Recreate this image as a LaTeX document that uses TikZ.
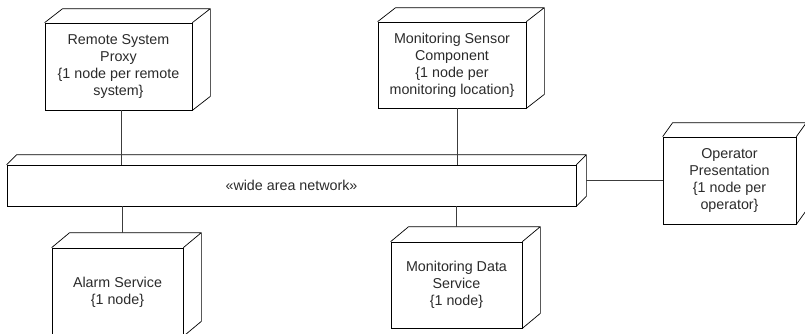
\documentclass[tikz,border=0pt]{standalone}
\usepackage{fontspec}
\setmainfont{Liberation Sans}
\usetikzlibrary{calc}
\definecolor{ink}{HTML}{2B2B2B}
\definecolor{wire}{HTML}{3C3C3C}
\newcommand{\pxu}{0.03cm}

\begin{document}
\begin{tikzpicture}[
    x=0.03cm, y=-0.03cm,
    font=\fontsize{12.2}{14.5}\selectfont,
    devbox/.style={draw=black, fill=white, line width=0.6pt,
                   text=ink, align=center, inner sep=2pt},
    wire/.style={draw=wire, line width=0.6pt},
  ]
\useasboundingbox (0,0) rectangle (805,333);

% deployment nodes (front faces)
\node[devbox, minimum width=147*\pxu, minimum height=87*\pxu] (rsp) at (118.5,66.5)
  {Remote System\\Proxy\\\{1 node per remote\\system\}};
\node[devbox, minimum width=148*\pxu, minimum height=86*\pxu] (msc) at (452,65)
  {Monitoring Sensor\\Component\\\{1 node per\\monitoring location\}};
\node[devbox, minimum width=569*\pxu, minimum height=41*\pxu] (wan) at (291.5,185.5)
  {\guillemotleft wide area network\guillemotright};
\node[devbox, minimum width=133*\pxu, minimum height=87*\pxu] (opr) at (729.5,180.5)
  {Operator\\Presentation\\\{1 node per\\operator\}};
\node[devbox, minimum width=131*\pxu, minimum height=88*\pxu] (alm) at (117.5,292)
  {Alarm Service\\\{1 node\}};
\node[devbox, minimum width=131*\pxu, minimum height=86*\pxu] (mds) at (456.5,285)
  {Monitoring Data\\Service\\\{1 node\}};

% depth of each node box
\foreach \n/\dx/\dy in {rsp/18/14, msc/18/14, wan/10/10, opr/10/14, alm/18/15, mds/18/15}
  \draw[line width=0.6pt] (\n.north west) -- ++(\dx,-\dy)
    -- ($(\n.north east)+(\dx,-\dy)$) -- ($(\n.south east)+(\dx,-\dy)$) -- (\n.south east)
    (\n.north east) -- ++(\dx,-\dy);

% links to the network
\draw[wire] ([xshift=3*\pxu]rsp.south) -- ([xshift=3*\pxu]rsp.south |- wan.north);
\draw[wire] ([xshift=5*\pxu]msc.south) -- ([xshift=5*\pxu]msc.south |- wan.north);
\draw[wire] ([xshift=5*\pxu]alm.north |- wan.south) -- ([xshift=5*\pxu,yshift=15*\pxu]alm.north);
\draw[wire] (mds.north |- wan.south) -- ([yshift=15*\pxu]mds.north);
\draw[wire] ([xshift=10*\pxu]wan.east |- opr.west) -- (opr.west);

\end{tikzpicture}
\end{document}
